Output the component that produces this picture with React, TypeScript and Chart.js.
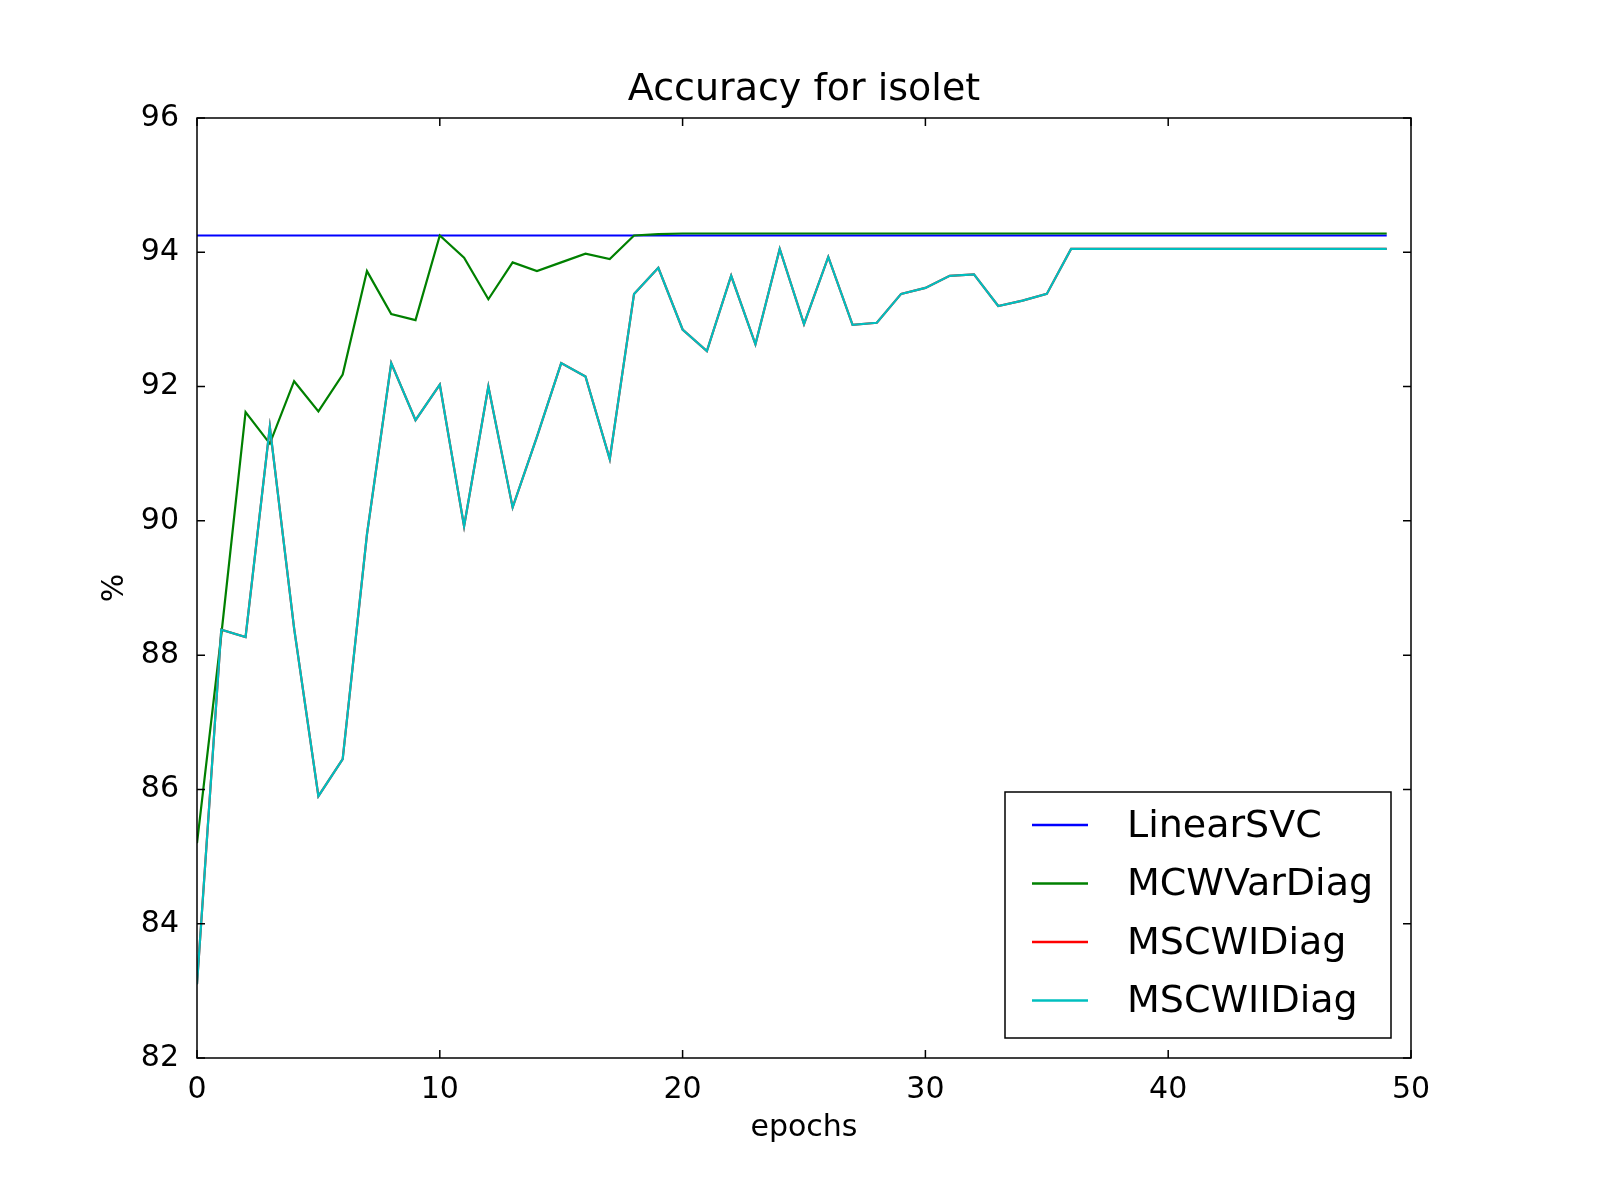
import React, { useEffect, useRef } from "react";
import { Chart, registerables } from "chart.js";
Chart.register(...registerables);

const epochs = Array.from({ length: 50 }, (_, i) => i);
const linearSVC = epochs.map(() => 94.25);
const mcwVarDiag = [85.2, 88.3, 91.62, 91.15, 92.08, 91.63, 92.18, 93.72, 93.08, 92.99, 94.25, 93.92, 93.3, 93.85, 93.72, 93.85, 93.98, 93.9, 94.25, 94.27,
  ...Array(30).fill(94.28)];
const mscwIIDiag = [83.1, 88.38, 88.27, 91.4, 88.4, 85.9, 86.45, 89.8, 92.35, 91.5, 92.03, 89.92, 92.0, 90.2, 91.25, 92.35, 92.15, 90.92, 93.38, 93.77,
  92.85, 92.53, 93.65, 92.63, 94.05, 92.93, 93.93, 92.92, 92.95, 93.38, 93.47, 93.65, 93.67, 93.2, 93.28, 93.38, ...Array(14).fill(94.05)];
const mscwIDiag = mscwIIDiag.slice();
const labels = ["LinearSVC", "MCWVarDiag", "MSCWIDiag", "MSCWIIDiag"];
const colors = ["#0000ff", "#008000", "#ff0000", "#00bfbf"];
const FONT = "DejaVu Sans";

export default function App() {
  const ref = useRef<HTMLCanvasElement>(null);
  useEffect(() => {
    const series = [linearSVC, mcwVarDiag, mscwIDiag, mscwIIDiag];
    const deco = {
      id: "deco",
      afterDraw(c: any) {
        const { ctx, chartArea: a, scales } = c;
        ctx.save();
        ctx.strokeStyle = "#000";
        ctx.lineWidth = 1.5;
        ctx.strokeRect(a.left, a.top, a.right - a.left, a.bottom - a.top);
        for (let v = 0; v <= 50; v += 10) {
          const x = scales.x.getPixelForValue(v);
          ctx.beginPath(); ctx.moveTo(x, a.bottom); ctx.lineTo(x, a.bottom - 8);
          ctx.moveTo(x, a.top); ctx.lineTo(x, a.top + 8); ctx.stroke();
        }
        for (let v = 82; v <= 96; v += 2) {
          const y = scales.y.getPixelForValue(v);
          ctx.beginPath(); ctx.moveTo(a.left, y); ctx.lineTo(a.left + 8, y);
          ctx.moveTo(a.right, y); ctx.lineTo(a.right - 8, y); ctx.stroke();
        }
        ctx.fillStyle = "#000";
        ctx.textAlign = "center"; ctx.textBaseline = "middle";
        ctx.font = `38px '${FONT}'`;
        ctx.fillText("Accuracy for isolet", (a.left + a.right) / 2, 90);
        ctx.font = `30px '${FONT}'`;
        ctx.fillText("epochs", (a.left + a.right) / 2, 1128);
        ctx.save(); ctx.translate(115, (a.top + a.bottom) / 2); ctx.rotate(-Math.PI / 2);
        ctx.fillText("%", 0, 0); ctx.restore();
        ctx.fillStyle = "#fff";
        ctx.fillRect(1005, 792, 386, 246);
        ctx.strokeRect(1005, 792, 386, 246);
        ctx.font = `38px '${FONT}'`;
        ctx.textAlign = "left";
        labels.forEach((l, i) => {
          const y = 825 + i * 58.5;
          ctx.strokeStyle = colors[i]; ctx.lineWidth = 2.5;
          ctx.beginPath(); ctx.moveTo(1032, y); ctx.lineTo(1088, y); ctx.stroke();
          ctx.fillStyle = "#000";
          ctx.fillText(l, 1127, y + 2);
        });
        ctx.restore();
      },
    };
    const chart = new Chart(ref.current!, {
      type: "line",
      data: {
        datasets: labels.map((l, i) => ({
          label: l,
          data: series[i].map((v, k) => ({ x: epochs[k], y: v })),
          borderColor: colors[i],
          borderWidth: 2.2,
          pointRadius: 0,
          tension: 0,
          order: 3 - i,
        })),
      },
      options: {
        animation: false,
        responsive: false,
        layout: { padding: { left: 137, right: 189, top: 118, bottom: 0 } },
        plugins: { legend: { display: false }, title: { display: false }, tooltip: { enabled: false } },
        scales: {
          x: {
            type: "linear", min: 0, max: 50,
            ticks: { stepSize: 10, color: "#000", font: { family: FONT, size: 30 }, padding: 6, maxRotation: 0 },
            grid: { display: false }, border: { display: false },
            afterFit: (s: any) => { s.height = 142; },
          },
          y: {
            min: 82, max: 96,
            ticks: { stepSize: 2, color: "#000", font: { family: FONT, size: 30 }, padding: 10 },
            grid: { display: false }, border: { display: false },
            afterFit: (s: any) => { s.width = 60; },
          },
        },
      },
      plugins: [deco],
    });
    return () => chart.destroy();
  }, []);
  return (
    <canvas ref={ref} width={1600} height={1200}
      style={{ position: "fixed", left: 0, top: 0, width: 1600, height: 1200, background: "#fff" }} />
  );
}
